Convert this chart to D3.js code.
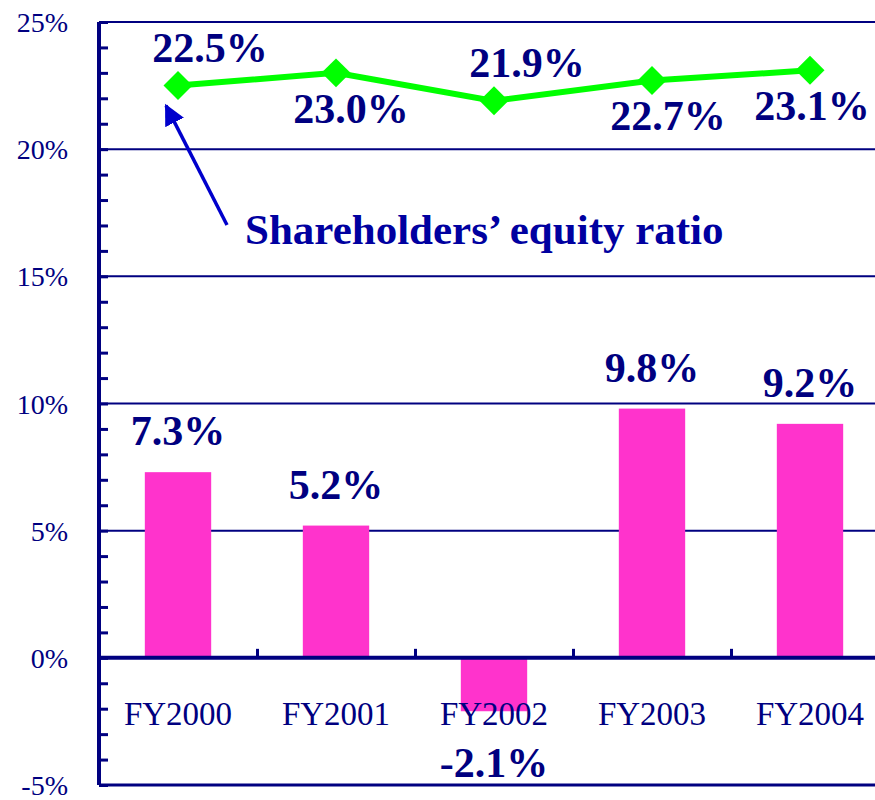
<!DOCTYPE html>
<html>
<head>
<meta charset="utf-8">
<script src="https://cdn.jsdelivr.net/npm/d3@7"></script>
<style>
  body { margin: 0; background: #fff; }
</style>
</head>
<body>
<div id="chart"></div>
<script>
// Data
var years = ["FY2000", "FY2001", "FY2002", "FY2003", "FY2004"];
var roe = [7.3, 5.2, -2.1, 9.8, 9.2];
var equityRatio = [22.5, 23.0, 21.9, 22.7, 23.1];
var yTicks = [-5, 0, 5, 10, 15, 20, 25];
var lineLabelSide = ["above", "below", "above", "below", "below"];
var lineLabelDx = [32, 15, 33, 16, 2];

var w = 875, h = 800;
var navy = "#000080";
var serif = "Liberation Serif, Times New Roman, serif";

var svg = d3.select("#chart").append("svg").attr("width", w).attr("height", h);

var x = d3.scaleBand().domain(years).range([99, 889]).paddingInner(0.58).paddingOuter(0.29);
var y = d3.scaleLinear().domain([-5, 25]).range([785, 22]);

// Gridlines every 5%
svg.selectAll("line.grid")
    .data(yTicks)
    .enter()
    .append("line")
    .attr("class", "grid")
    .attr("x1", 99).attr("x2", w)
    .attr("y1", function(d) { return y(d); })
    .attr("y2", function(d) { return y(d); })
    .attr("stroke", navy)
    .attr("stroke-width", function(d) { return d == -5 ? 3 : 2; });

// Bars
svg.selectAll("rect.bar")
    .data(roe)
    .enter()
    .append("rect")
    .attr("class", "bar")
    .attr("x", function(d, i) { return x(years[i]); })
    .attr("y", function(d) { return y(Math.max(0, d)); })
    .attr("width", x.bandwidth())
    .attr("height", function(d) { return Math.abs(y(d) - y(0)); })
    .attr("fill", "#FF33CC");

// Zero line with category ticks
var xAxis = d3.axisTop(d3.scaleLinear().domain([0, 5]).range([99, 889]))
    .tickValues([1, 2, 3, 4]).tickSize(9).tickFormat("");
var gx = svg.append("g").attr("transform", "translate(0," + y(0) + ")").call(xAxis);
gx.select(".domain").attr("d", "M99,0H" + w).attr("stroke", navy).attr("stroke-width", 4);
gx.selectAll(".tick line").attr("stroke", navy).attr("stroke-width", 3);

// Category labels
svg.selectAll("text.cat")
    .data(years)
    .enter()
    .append("text")
    .attr("class", "cat")
    .text(function(d) { return d; })
    .attr("x", function(d) { return x(d) + x.bandwidth() / 2; })
    .attr("y", y(0) + 67)
    .attr("text-anchor", "middle")
    .attr("font-family", serif)
    .attr("font-size", "33px")
    .attr("fill", navy);

// Y axis
var yAxis = d3.axisRight(y).ticks(30).tickSize(9).tickFormat("");
var gy = svg.append("g").attr("transform", "translate(99,0)").call(yAxis);
gy.select(".domain").attr("d", "M0," + y(25) + "V" + y(-5)).attr("stroke", navy).attr("stroke-width", 4);
gy.selectAll(".tick line").attr("stroke", navy).attr("stroke-width", 3);

svg.selectAll("text.ylab")
    .data(yTicks)
    .enter()
    .append("text")
    .attr("class", "ylab")
    .text(function(d) { return d + "%"; })
    .attr("x", 68)
    .attr("y", function(d) { return y(d) + 10; })
    .attr("text-anchor", "end")
    .attr("font-family", serif)
    .attr("font-size", "28px")
    .attr("fill", navy);

// Bar value labels
svg.selectAll("text.barval")
    .data(roe)
    .enter()
    .append("text")
    .attr("class", "barval")
    .text(function(d) { return d.toFixed(1) + "%"; })
    .attr("x", function(d, i) { return x(years[i]) + x.bandwidth() / 2; })
    .attr("y", function(d) { return d >= 0 ? y(d) - 27 : y(-5) - 8; })
    .attr("text-anchor", "middle")
    .attr("font-family", serif)
    .attr("font-weight", "bold")
    .attr("font-size", "42px")
    .attr("fill", navy);

// Equity ratio line
var line = d3.line()
    .x(function(d, i) { return x(years[i]) + x.bandwidth() / 2; })
    .y(function(d) { return y(d); });

svg.append("path")
    .datum(equityRatio)
    .attr("d", line)
    .attr("fill", "none")
    .attr("stroke", "#00FF00")
    .attr("stroke-width", 6);

svg.selectAll("path.marker")
    .data(equityRatio)
    .enter()
    .append("path")
    .attr("class", "marker")
    .attr("d", d3.symbol().type(d3.symbolSquare).size(420))
    .attr("transform", function(d, i) {
        return "translate(" + (x(years[i]) + x.bandwidth() / 2) + "," + y(d) + ") rotate(45)";
    })
    .attr("fill", "#00FF00");

svg.selectAll("text.lineval")
    .data(equityRatio)
    .enter()
    .append("text")
    .attr("class", "lineval")
    .text(function(d) { return d.toFixed(1) + "%"; })
    .attr("x", function(d, i) { return x(years[i]) + x.bandwidth() / 2 + lineLabelDx[i]; })
    .attr("y", function(d, i) { return lineLabelSide[i] == "above" ? y(d) - 24 : y(d) + 50; })
    .attr("text-anchor", "middle")
    .attr("font-family", serif)
    .attr("font-weight", "bold")
    .attr("font-size", "42px")
    .attr("fill", navy);

// Callout arrow and legend text
svg.append("defs").append("marker")
    .attr("id", "arrow")
    .attr("viewBox", "0 0 10 10")
    .attr("refX", 9).attr("refY", 5)
    .attr("markerWidth", 6).attr("markerHeight", 6)
    .attr("orient", "auto")
    .append("path")
    .attr("d", "M0,0L10,5L0,10Z")
    .attr("fill", "#0000CC");

var tip = [x(years[0]) + x.bandwidth() / 2 - 12, y(equityRatio[0]) + 20];
svg.append("line")
    .attr("x1", 227).attr("y1", 225)
    .attr("x2", tip[0]).attr("y2", tip[1])
    .attr("stroke", "#0000CC")
    .attr("stroke-width", 3.5)
    .attr("marker-end", "url(#arrow)");

svg.append("text")
    .text("Shareholders\u2019 equity ratio")
    .attr("x", 245)
    .attr("y", 244)
    .attr("font-family", serif)
    .attr("font-weight", "bold")
    .attr("font-size", "43px")
    .attr("fill", "#0000A0");
</script>
</body>
</html>
